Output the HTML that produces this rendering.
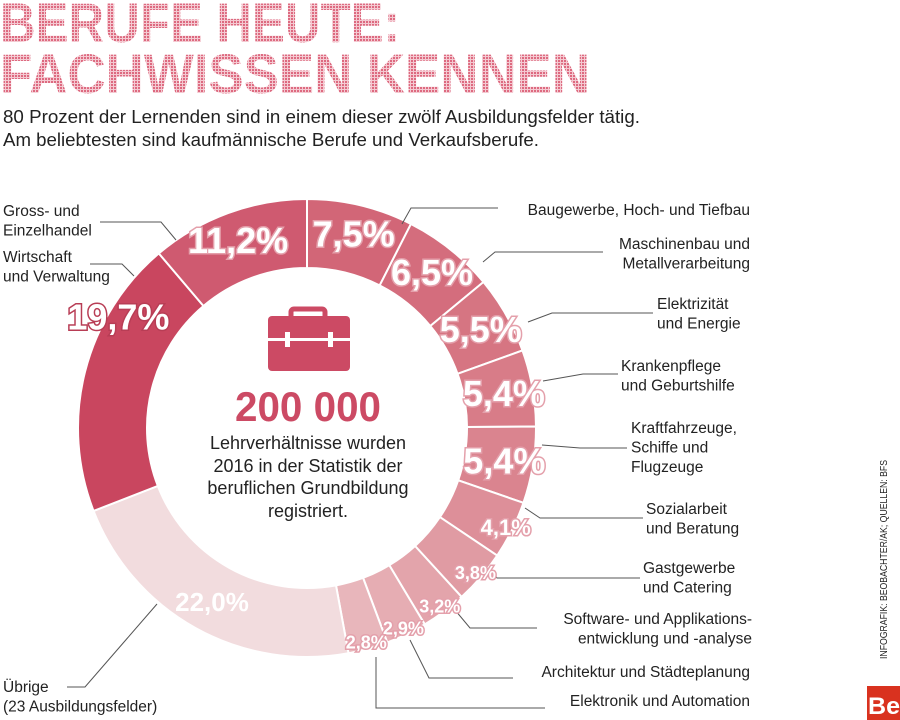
<!DOCTYPE html>
<html><head><meta charset="utf-8"><style>
html,body{margin:0;padding:0;background:#fff;}
svg{display:block;font-family:"Liberation Sans",sans-serif;}
</style></head><body>
<svg id="chart" width="900" height="720" viewBox="0 0 900 720">
<defs>
<pattern id="dots" width="3" height="3" patternUnits="userSpaceOnUse"><rect width="3" height="3" fill="#f4c9d1"/><rect width="2" height="2" fill="#dd6a80"/></pattern>
</defs>
<g font-weight="bold" fill="url(#dots)">
<text x="0" y="42" font-size="56" textLength="400" lengthAdjust="spacingAndGlyphs">BERUFE HEUTE:</text>
<text x="0" y="93" font-size="56" textLength="590" lengthAdjust="spacingAndGlyphs">FACHWISSEN KENNEN</text>
</g>
<g font-size="18" fill="#222">
<text x="3" y="123" textLength="637" lengthAdjust="spacingAndGlyphs">80 Prozent der Lernenden sind in einem dieser zwölf Ausbildungsfelder tätig.</text>
<text x="3" y="146" textLength="536" lengthAdjust="spacingAndGlyphs">Am beliebtesten sind kaufmännische Berufe und Verkaufsberufe.</text>
</g>
<g id="segments"></g>
<g id="leaders" fill="none" stroke="#555" stroke-width="1"></g>
<g id="pcts"></g>
<g>
<g fill="#cc4a64">
<rect x="291" y="309" width="34" height="10" rx="3" fill="none" stroke="#cc4a64" stroke-width="5"/>
<rect x="268" y="316" width="82" height="55" rx="4"/>
<rect x="268" y="338" width="82" height="3" fill="#fff"/>
<rect x="285" y="332" width="5" height="15" fill="#fff"/>
<rect x="328" y="332" width="5" height="15" fill="#fff"/>
</g>
<text x="308" y="421" text-anchor="middle" font-size="42" font-weight="bold" fill="#cc4a64" textLength="146" lengthAdjust="spacingAndGlyphs">200 000</text>
<g font-size="18" fill="#222" text-anchor="middle">
<text x="308" y="449">Lehrverhältnisse wurden</text>
<text x="308" y="472">2016 in der Statistik der</text>
<text x="308" y="494">beruflichen Grundbildung</text>
<text x="308" y="517">registriert.</text>
</g>
</g>
<g id="labels" font-size="15.5" fill="#222"></g>
<text transform="translate(887,659) rotate(-90)" font-size="10" fill="#222" textLength="199" lengthAdjust="spacingAndGlyphs">INFOGRAFIK: BEOBACHTER/AK; QUELLEN: BFS</text>
<g>
<rect x="867" y="686" width="33" height="34" fill="#d9321f"/>
<text x="868" y="714" font-size="24" font-weight="bold" fill="#fff" textLength="32" lengthAdjust="spacingAndGlyphs">Be</text>
</g>
</svg>
<script>
const categories = ["Baugewerbe, Hoch- und Tiefbau","Maschinenbau und Metallverarbeitung","Elektrizität und Energie","Krankenpflege und Geburtshilfe","Kraftfahrzeuge, Schiffe und Flugzeuge","Sozialarbeit und Beratung","Gastgewerbe und Catering","Software- und Applikationsentwicklung und -analyse","Architektur und Städteplanung","Elektronik und Automation","Übrige (23 Ausbildungsfelder)","Wirtschaft und Verwaltung","Gross- und Einzelhandel"];
const values = [7.5,6.5,5.5,5.4,5.4,4.1,3.8,3.2,2.9,2.8,22.0,19.7,11.2];
const pctLabels = ["7,5%","6,5%","5,5%","5,4%","5,4%","4,1%","3,8%","3,2%","2,9%","2,8%","22,0%","19,7%","11,2%"];
const colors = ["#d26677","#d46d7d","#d67582","#d87c88","#da848f","#dd8f99","#e09ba3","#e3a4ab","#e6adb3","#e8b6bb","#f2dcde","#c9465f","#cf5a70"];
const NS="http://www.w3.org/2000/svg";
const cx=307, cy=428, R=229, r=160;
const total=values.reduce((a,b)=>a+b,0);
function pt(angDeg, rad){const a=angDeg*Math.PI/180;return [cx+rad*Math.sin(a), cy-rad*Math.cos(a)];}
const seg=document.getElementById('segments');
const pg=document.getElementById('pcts');
let acc=0;
values.forEach((v,i)=>{
  const a0=acc/total*360, a1=(acc+v)/total*360; acc+=v;
  const large=(a1-a0)>180?1:0;
  const p0=pt(a0,R),p1=pt(a1,R),q1=pt(a1,r),q0=pt(a0,r);
  const path=document.createElementNS(NS,'path');
  path.setAttribute('d',`M${p0[0]},${p0[1]} A${R},${R} 0 ${large} 1 ${p1[0]},${p1[1]} L${q1[0]},${q1[1]} A${r},${r} 0 ${large} 0 ${q0[0]},${q0[1]} Z`);
  path.setAttribute('fill',colors[i]);
  path.setAttribute('stroke','#fff');
  path.setAttribute('stroke-width','2');
  
  
  seg.appendChild(path);
  const isMid = v>19 && v<21;
  const frac = isMid ? 0.73 : 0.5;
  const am=a0+(a1-a0)*frac;
  const lr = isMid ? 219 : (v>15 ? 195 : (v>=5 ? 200 : 222));
  const p=pt(am, lr);
  const fs = v>=5 ? 36 : (v>=4 ? 22 : 18);
  const t=document.createElementNS(NS,'text');
  t.setAttribute('x',p[0]); t.setAttribute('y',p[1]+fs*0.36);
  t.setAttribute('text-anchor','middle');
  t.setAttribute('font-size', v>20 ? 26 : fs);
  t.setAttribute('font-weight','bold');
  t.setAttribute('fill','#fff');
  t.setAttribute('stroke', v>20 ? 'none' : (v>15?'#b83d55':'#e4a0ab'));
  t.setAttribute('stroke-width','3');
  t.setAttribute('paint-order','stroke');
  t.textContent=pctLabels[i];
  
  
  pg.appendChild(t);
});
const lg=document.getElementById('leaders');
const leaderPts=[
 "498,208 411,208 402,224","603,252 495,252 483,262","653,313 552,313 528,322","618,374 583,374 543,381",
 "627,448 580,448 542,445","643,518 540,518 525,508","640,578 497,578 493,572","537,628 470,628 455,610",
 "513,678 429,678 410,640","545,708 376,708 376,657","67,687 85,687 157,604","90,264 122,264 134,276","100,222 161,222 176,240"];
leaderPts.forEach((s,i)=>{const pl=document.createElementNS(NS,'polyline');pl.setAttribute('points',s);
 
 
 lg.appendChild(pl);});
const labelLines=[["Baugewerbe, Hoch- und Tiefbau"],["Maschinenbau und","Metallverarbeitung"],["Elektrizität","und Energie"],["Krankenpflege","und Geburtshilfe"],["Kraftfahrzeuge,","Schiffe und","Flugzeuge"],["Sozialarbeit","und Beratung"],["Gastgewerbe","und Catering"],["Software- und Applikations-","entwicklung und -analyse"],["Architektur und Städteplanung"],["Elektronik und Automation"],["Übrige","(23 Ausbildungsfelder)"],["Wirtschaft","und Verwaltung"],["Gross- und","Einzelhandel"]];
const labelY=[215,249,309,371,433,514,573,624,677,706,692,262,216];
const leftX=[0,0,657,621,631,646,643];
const labelG=document.getElementById('labels');
labelLines.forEach((lines,i)=>{
  const right=i<10;
  lines.forEach((ln,j)=>{
    const t=document.createElementNS(NS,'text');
    t.setAttribute('x', right?(i==7?752:750):3);
    t.setAttribute('y', labelY[i]+j*19.5);
    if(right){
      if(i>=2 && i<=6){ t.setAttribute('x', leftX[i]); }
      else t.setAttribute('text-anchor','end');
    }
    t.textContent=ln;
    
    
    labelG.appendChild(t);
  });
});
</script>
</body></html>
